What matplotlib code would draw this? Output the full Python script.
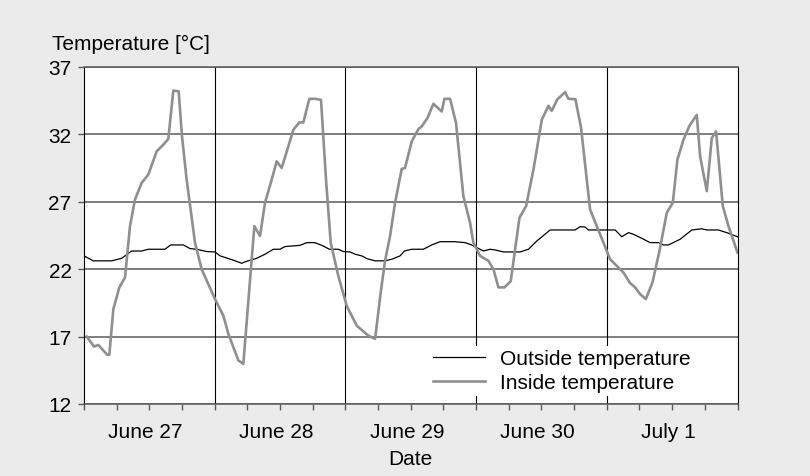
import numpy as np
import matplotlib
matplotlib.use('Agg')
import matplotlib.pyplot as plt

plt.rcParams['font.family'] = ['Liberation Sans', 'DejaVu Sans']

# hours since June 27 00:00 and temperatures
inside_hours = [0.5, 1.84, 2.63, 3.55, 4.28, 4.65, 5.39, 6.49, 7.53, 8.45, 9.36, 10.59,
                11.81, 13.34, 14.57, 15.48, 16.4, 17.38, 18.0, 18.85, 20.38, 21.6, 22.83,
                24.06, 25.59, 26.51, 28.35, 29.26, 31.28, 32.32, 33.24, 34.47, 35.38, 36.3,
                37.52, 38.44, 39.54, 40.28, 41.38, 42.42, 43.52, 44.44, 45.3, 46.7,
                48.24, 50.08, 52.22, 53.45, 54.49, 55.28, 56.2, 57.12, 58.34, 58.95, 60.18,
                61.4, 62.01, 63.06, 64.16, 65.69, 66.18, 67.22, 68.32, 69.66, 70.89, 71.5,
                72.73, 74.26, 75.18, 76.1, 77.2, 78.36, 79.96, 81.18, 82.53, 84.06, 85.28,
                85.89, 86.93, 88.34, 88.95, 90.24, 91.28, 92.93, 94.15, 95.38,
                96.6, 97.53, 99.06, 100.28, 101.2, 102.12, 103.16, 104.38, 105.67, 107.02,
                108.12, 108.97, 110.08, 111.18, 112.52, 113.14, 114.36, 115.28, 116.07,
                117.3, 118.34, 120.0]
inside_temp = [17.0, 16.26, 16.38, 15.97, 15.65, 15.65, 19.04, 20.65, 21.38, 25.2, 27.17, 28.4,
               29.02, 30.74, 31.24, 31.66, 35.25, 35.2, 31.85, 28.65, 23.97, 22.0, 20.89,
               19.78, 18.55, 17.2, 15.23, 14.98, 25.2, 24.46, 26.93, 28.65, 30.0, 29.51,
               31.11, 32.34, 32.89, 32.89, 34.64, 34.64, 34.56, 28.65, 23.97, 21.5,
               19.29, 17.81, 17.07, 16.83, 20.28, 22.62, 24.46, 26.93, 29.44, 29.51, 31.48,
               32.39, 32.59, 33.21, 34.27, 33.7, 34.64, 34.64, 32.84, 27.42, 25.45, 23.97,
               22.99, 22.62, 22.0, 20.65, 20.65, 21.11, 25.82, 26.68, 29.39, 33.08, 34.12,
               33.75, 34.61, 35.13, 34.64, 34.61, 32.47, 26.43, 25.2, 23.97,
               22.74, 22.37, 21.75, 20.97, 20.65, 20.15, 19.78, 21.01, 23.35, 26.19,
               26.93, 30.13, 31.61, 32.64, 33.45, 30.37, 27.79, 31.73, 32.22,
               26.68, 25.2, 23.23]

outside_hours = [0, 1.71, 5.08, 6.92, 8.75, 10.59, 11.81, 14.87, 15.91, 18.24, 19.46, 20.69,
                 22.52, 24.05, 24.98, 27.43, 28.96, 29.88, 31.71, 33.24, 34.77, 36.0, 36.91,
                 39.67, 40.89, 42.42, 43.95, 45.05, 46.7, 47.62, 48.86, 49.77, 51.0, 51.92,
                 53.45, 55.28, 56.51, 58.04, 58.83, 60.18, 62.32, 63.85, 65.38, 68.13, 69.97,
                 71.19, 72.72, 73.35, 74.57, 75.49, 77.02, 80.08, 81.61, 83.14, 85.59, 90.18,
                 91.09, 92.01, 92.62, 96.6, 97.53, 98.75, 99.98, 100.9, 102.43, 103.96,
                 105.49, 106.4, 107.32, 109.46, 111.61, 113.44, 114.36, 116.5, 118.03, 120.0]
outside_temp = [22.99, 22.62, 22.62, 22.81, 23.35, 23.35, 23.48, 23.48, 23.8, 23.8, 23.53, 23.48,
                23.31, 23.28, 22.99, 22.67, 22.44, 22.59, 22.81, 23.11, 23.48, 23.48, 23.68,
                23.77, 23.97, 23.97, 23.72, 23.48, 23.48, 23.31, 23.28, 23.11, 22.99, 22.79,
                22.62, 22.62, 22.74, 22.99, 23.35, 23.48, 23.48, 23.8, 24.04, 24.04, 23.97,
                23.8, 23.48, 23.35, 23.48, 23.43, 23.28, 23.28, 23.48, 24.09, 24.91, 24.91,
                25.15, 25.13, 24.91, 24.91, 24.91, 24.41, 24.71, 24.59, 24.29, 23.97,
                23.97, 23.8, 23.8, 24.22, 24.91, 25.0, 24.91, 24.91, 24.71, 24.41]

day_labels = ['June 27', 'June 28', 'June 29', 'June 30', 'July 1']
y_ticks = [12, 17, 22, 27, 32, 37]

bg = '#ebebeb'
hgrid = '#5a5a5a'

fig = plt.figure(figsize=(8.1, 4.77), dpi=100, facecolor=bg)
ax = fig.add_axes([84 / 810, 1 - 405 / 477, 653.5 / 810, 337 / 477])
ax.set_facecolor('white')

ax.plot(outside_hours, outside_temp, color='black', lw=0.9, label='Outside temperature', zorder=3)
ax.plot(inside_hours, inside_temp, color='#8f8f8f', lw=1.9, label='Inside temperature', zorder=3)

ax.set_xlim(0, 120)
ax.set_ylim(12, 37)

ax.set_yticks(y_ticks)
ax.yaxis.grid(True, color=hgrid, lw=1.1)
for d in range(24, 120, 24):
    ax.axvline(d, color='black', lw=0.8, zorder=1)

# tick marks every 6 hours, day names on invisible minor ticks
ax.set_xticks(list(range(0, 121, 6)))
ax.set_xticklabels([])
ax.set_xticks([11.3 + 24 * i for i in range(len(day_labels))], minor=True)
ax.set_xticklabels(day_labels, minor=True)
ax.tick_params(axis='x', which='major', length=4, width=1, color=hgrid)
ax.tick_params(axis='x', which='minor', length=0, pad=13, labelsize=15)
ax.tick_params(axis='y', length=4.5, width=1, color=hgrid, pad=4.5, labelsize=15)
ax.set_axisbelow(True)

for s in ['top', 'bottom']:
    ax.spines[s].set_color(hgrid)
    ax.spines[s].set_linewidth(1.1)
for s in ['left', 'right']:
    ax.spines[s].set_color('black')
    ax.spines[s].set_linewidth(0.8)

ax.set_xlabel('Date', fontsize=15, labelpad=6)
fig.text(52 / 810, 1 - 44 / 477, 'Temperature [°C]', fontsize=15, va='center', ha='left')

leg = ax.legend(loc='lower left', bbox_to_anchor=((430 - 84) / 653.5, 0.025), fontsize=15,
                frameon=True, fancybox=False, framealpha=1, facecolor='white',
                edgecolor='none', borderpad=0.15, handlelength=2.5, handletextpad=0.7,
                labelspacing=0.25, borderaxespad=0)
leg.set_zorder(5)

fig.savefig('out.png', dpi=100, facecolor=bg)
